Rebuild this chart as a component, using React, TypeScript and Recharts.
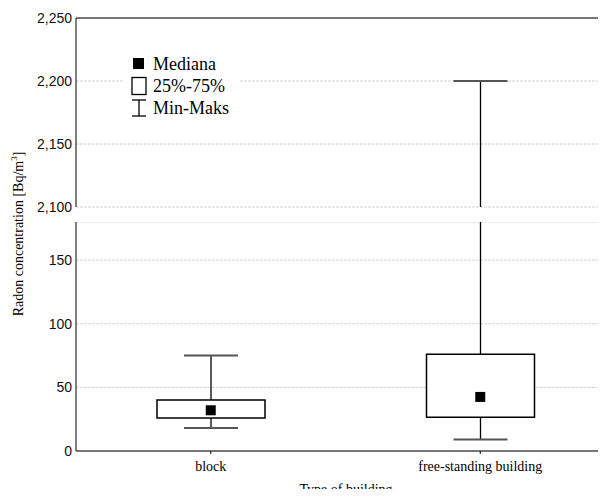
import { ComposedChart, Bar, Line, XAxis, YAxis, CartesianGrid, ReferenceLine, Legend } from 'recharts';

const categories = ['block', 'free-standing building'];
const minValues = [18, 9];
const q1Values = [26, 26.5];
const medianValues = [32, 42.5];
const q3Values = [40, 76];
const maxValues = [75, 2200];

const upperTicks = [2100, 2150, 2200, 2250];
const lowerTicks = [0, 50, 100, 150];
const legendLabels = ['Mediana', '25%-75%', 'Min-Maks'];

const rows = categories.map((name, i) => ({
  name,
  whisker: [minValues[i], maxValues[i]],
  box: [q1Values[i], q3Values[i]],
  median: medianValues[i],
}));

const sans = '"Liberation Sans", Arial, sans-serif';
const serif = '"Liberation Serif", "Times New Roman", serif';

const WhiskerShape = (props: any) => {
  const { x, y, width, height } = props;
  const cx = x + width / 2;
  return (
    <g>
      <line x1={cx} x2={cx} y1={y} y2={y + height} stroke="#000" strokeWidth={1.3} />
      <line x1={cx - 27} x2={cx + 27} y1={y} y2={y} stroke="#555" strokeWidth={2} />
      <line x1={cx - 27} x2={cx + 27} y1={y + height} y2={y + height} stroke="#555" strokeWidth={2} />
    </g>
  );
};

const MedianDot = (props: any) => {
  const { cx, cy, index } = props;
  return <rect key={`m-${index}`} x={cx - 5} y={cy - 5} width={10} height={10} fill="#000" />;
};

const LegendIcon = ({ i }: { i: number }) => {
  if (i === 0) return <svg width={16} height={20}><rect x={2} y={4} width={11} height={11} fill="#000" /></svg>;
  if (i === 1) return <svg width={16} height={20}><rect x={1} y={1.5} width={14} height={17} fill="#fff" stroke="#000" strokeWidth={1.3} /></svg>;
  return (
    <svg width={16} height={20}>
      <line x1={8} x2={8} y1={2} y2={18} stroke="#000" strokeWidth={1.3} />
      <line x1={1} x2={15} y1={2} y2={2} stroke="#000" strokeWidth={1.3} />
      <line x1={1} x2={15} y1={18} y2={18} stroke="#000" strokeWidth={1.3} />
    </svg>
  );
};

const LegendContent = () => (
  <div style={{ background: '#fff', width: 116, fontFamily: serif, fontSize: 18, color: '#000' }}>
    {legendLabels.map((label, i) => (
      <div key={label} style={{ display: 'flex', alignItems: 'center', height: 22, paddingLeft: 7 }}>
        <LegendIcon i={i} />
        <span style={{ marginLeft: 6 }}>{label}</span>
      </div>
    ))}
  </div>
);

const fmt = (v: number) => v.toLocaleString('en-US');

type PanelProps = { domain: [number, number]; ticks: number[]; height: number; upper?: boolean };

const Panel = ({ domain, ticks, height, upper }: PanelProps) => (
  <ComposedChart
    width={615}
    height={height}
    data={rows}
    margin={{ top: upper ? 18 : 0, right: 0, bottom: upper ? 11 : 0, left: 0 }}
  >
    <CartesianGrid vertical={false} stroke="#d2d2d2" strokeDasharray="3 1" />
    <XAxis
      dataKey="name"
      hide={upper}
      height={46}
      axisLine={{ stroke: '#777', strokeWidth: 2 }}
      tickLine={{ stroke: '#000' }}
      tickSize={3}
      tickMargin={7}
      tick={{ fontFamily: serif, fontSize: 14, fill: '#000' }}
    />
    <XAxis xAxisId="w" dataKey="name" hide />
    <YAxis
      domain={domain}
      ticks={ticks}
      interval={0}
      allowDataOverflow
      width={76}
      axisLine={{ stroke: '#000' }}
      tickLine={false}
      tickSize={0}
      tickMargin={4}
      tickFormatter={fmt}
      tick={{ fontFamily: sans, fontSize: 14, fill: '#111' }}
    />
    {upper && <ReferenceLine y={2250} stroke="#777" strokeWidth={2} />}
    <Bar xAxisId="w" dataKey="whisker" barSize={108} shape={<WhiskerShape />} isAnimationActive={false} />
    <Bar dataKey="box" barSize={108} fill="#fff" stroke="#000" strokeWidth={1.5} isAnimationActive={false} />
    <Line dataKey="median" stroke="none" dot={MedianDot} activeDot={false} isAnimationActive={false} />
    {upper && (
      <Legend
        layout="vertical"
        align="center"
        verticalAlign="middle"
        content={<LegendContent />}
        wrapperStyle={{ left: 124, top: 53, width: 116 }}
      />
    )}
  </ComposedChart>
);

export default function App() {
  return (
    <div style={{ position: 'relative', width: 606, height: 497, margin: -8, overflow: 'hidden', background: '#fff' }}>
      <div style={{ position: 'absolute', left: 0, top: 0 }}>
        <Panel domain={[2100, 2250]} ticks={upperTicks} height={218} upper />
      </div>
      <div style={{ position: 'absolute', left: 0, top: 222 }}>
        <Panel domain={[0, 180]} ticks={lowerTicks} height={275} />
      </div>
      <div
        style={{
          position: 'absolute',
          left: 19,
          top: 234,
          transform: 'translate(-50%, -50%) rotate(-90deg)',
          whiteSpace: 'nowrap',
          fontFamily: serif,
          fontSize: 14,
          color: '#000',
          lineHeight: '16px',
        }}
      >
        Radon concentration [Bq/m<sup style={{ fontSize: 9, lineHeight: 0 }}>3</sup>]
      </div>
      <div
        style={{
          position: 'absolute',
          left: 346,
          top: 482,
          transform: 'translateX(-50%)',
          whiteSpace: 'nowrap',
          fontFamily: serif,
          fontSize: 14,
          color: '#000',
          lineHeight: '16px',
        }}
      >
        Type of building
      </div>
    </div>
  );
}
